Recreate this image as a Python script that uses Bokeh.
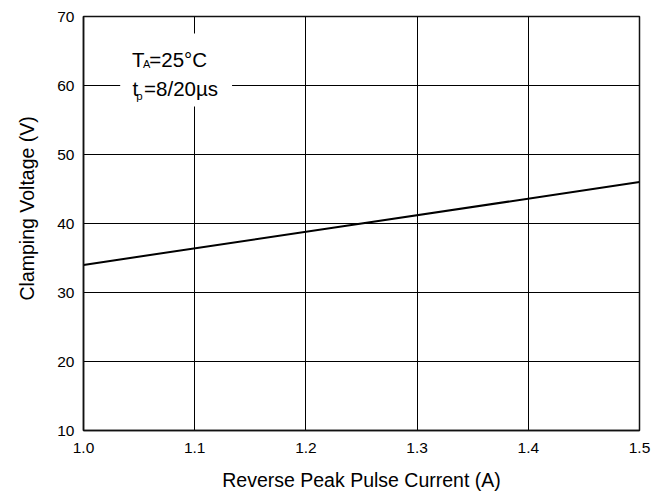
from bokeh.plotting import figure
from bokeh.models import FixedTicker, Label, BoxAnnotation, Range1d, Title
from bokeh.embed import file_html
from bokeh.resources import INLINE

# ---- data ----
current_a = [1.0, 1.25, 1.5]
clamp_v = [34.0, 40.0, 46.0]
x_ticks = [1.0, 1.1, 1.2, 1.3, 1.4, 1.5]
x_tick_labels = ["1.0", "1.1", "1.2", "1.3", "1.4", "1.5"]
y_ticks = [10, 20, 30, 40, 50, 60, 70]
y_tick_labels = ["10", "20", "30", "40", "50", "60", "70"]
x_title = "Reverse Peak Pulse Current (A)"
y_title = "Clamping Voltage (V)"

FONT = "Liberation Sans"

p = figure(
    frame_width=556, frame_height=414,
    x_range=Range1d(1.0, 1.5), y_range=Range1d(10, 70),
    output_backend="svg", toolbar_location=None,
    min_border_left=83, min_border_top=16, min_border_right=20, min_border_bottom=62,
)
p.background_fill_color = "white"
p.border_fill_color = "white"
p.outline_line_color = "#111111"
p.outline_line_width = 1.5

# grid
p.xgrid.ticker = FixedTicker(ticks=x_ticks)
p.ygrid.ticker = FixedTicker(ticks=y_ticks)
for g in (p.xgrid, p.ygrid):
    g.grid_line_color = "black"
    g.grid_line_width = 1
    g.grid_line_alpha = 1.0

# axes
p.xaxis.ticker = FixedTicker(ticks=x_ticks)
p.yaxis.ticker = FixedTicker(ticks=y_ticks)
p.xaxis.major_label_overrides = {t: l for t, l in zip(x_ticks, x_tick_labels)}
p.yaxis.major_label_overrides = {t: l for t, l in zip(y_ticks, y_tick_labels)}
for ax in (p.xaxis, p.yaxis):
    ax.major_tick_out = 0
    ax.major_tick_in = 0
    ax.minor_tick_out = 0
    ax.minor_tick_in = 0
    ax.axis_line_color = "#111111"
    ax.axis_line_width = 1.5
    ax.major_label_text_font = FONT
    ax.major_label_text_font_size = "15.5px"
    ax.major_label_text_color = "black"
    ax.axis_label_text_font = FONT
    ax.axis_label_text_font_size = "19.5px"
    ax.axis_label_text_font_style = "normal"
    ax.axis_label_text_color = "black"
p.xaxis.major_label_standoff = 12
p.yaxis.major_label_standoff = 9
p.xaxis.axis_label = x_title
p.xaxis.axis_label_standoff = 13

# y title as a side title (placed slightly above centre like the reference)
p.add_layout(Title(text=y_title, align="left", offset=130, vertical_align="top",
                   standoff=29, text_font=FONT, text_font_size="19.5px",
                   text_font_style="normal", text_color="black"), "left")

# curve
p.line(current_a, clamp_v, line_color="black", line_width=2)

# annotation box
p.add_layout(BoxAnnotation(left=1.033, right=1.1336, bottom=56.96, top=67.54,
                           fill_color="white", fill_alpha=1.0, line_alpha=0,
                           level="annotation"))

def lab(x, y, t, size):
    p.add_layout(Label(x=x, y=y, text=t, text_align="left",
                       text_baseline="alphabetic", text_font=FONT,
                       text_font_size=size, text_color="black"))

lab(1.0436, 63.83, "T", "20.5px")
lab(1.0536, 63.10, "A", "11px")
lab(1.0592, 63.83, "=25\u00b0C", "20.5px")
lab(1.0440, 59.52, "t", "20.5px")
lab(1.0474, 58.55, "p", "11.5px")
lab(1.0545, 59.52, "=8/20\u00b5s", "20.5px")

open("out.html", "w").write(file_html(p, INLINE))
